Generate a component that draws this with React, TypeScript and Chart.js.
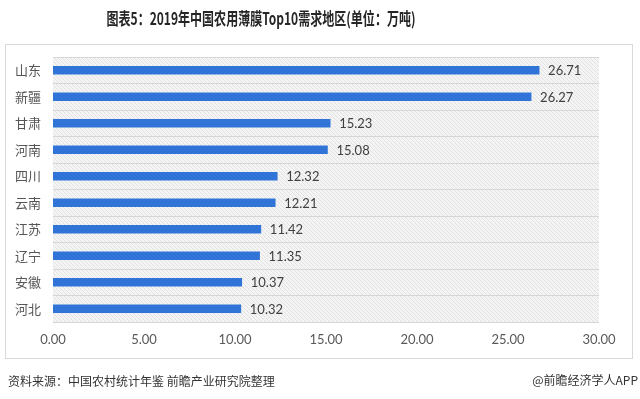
import React, { useEffect, useRef } from 'react';
import { Chart, registerables } from 'chart.js';

Chart.register(...registerables);

const categories = ['山东', '新疆', '甘肃', '河南', '四川', '云南', '江苏', '辽宁', '安徽', '河北'];
const values = [26.71, 26.27, 15.23, 15.08, 12.32, 12.21, 11.42, 11.35, 10.37, 10.32];
const xMin = 0;
const xMax = 30;
const xStep = 5;
const titleText = '图表5：2019年中国农用薄膜Top10需求地区(单位：万吨)';
const sourceText = '资料来源：中国农村统计年鉴 前瞻产业研究院整理';
const brandText = '@前瞻经济学人APP';

const FONT = 'Lato, "Noto Sans CJK SC", sans-serif';
const CJK = '"Noto Sans CJK SC", sans-serif';

function makePattern(ctx: CanvasRenderingContext2D) {
  const c = document.createElement('canvas');
  c.width = 4;
  c.height = 4;
  const p = c.getContext('2d')!;
  p.fillStyle = '#f4f4f4';
  p.fillRect(0, 0, 4, 4);
  p.strokeStyle = '#e2e2e2';
  p.lineWidth = 1;
  p.beginPath();
  p.moveTo(0, 0);
  p.lineTo(4, 4);
  p.moveTo(-2, 2);
  p.lineTo(2, 6);
  p.moveTo(2, -2);
  p.lineTo(6, 2);
  p.stroke();
  return ctx.createPattern(c, 'repeat');
}

const decor = {
  id: 'decor',
  beforeDraw(chart: any) {
    const { ctx, chartArea } = chart;
    ctx.save();
    ctx.fillStyle = '#ffffff';
    ctx.fillRect(0, 0, chart.width, chart.height);
    ctx.strokeStyle = '#d9d9d9';
    ctx.lineWidth = 1;
    ctx.strokeRect(5.5, 44.5, 627, 314);
    const pat = makePattern(ctx);
    if (pat) {
      ctx.fillStyle = pat;
      ctx.fillRect(chartArea.left, chartArea.top, chartArea.right - chartArea.left, chartArea.bottom - chartArea.top);
    }
    ctx.restore();
  },
  afterDatasetsDraw(chart: any) {
    const { ctx } = chart;
    const meta = chart.getDatasetMeta(0);
    ctx.save();
    ctx.font = '13px ' + FONT;
    ctx.fillStyle = '#404040';
    ctx.textAlign = 'left';
    ctx.textBaseline = 'middle';
    meta.data.forEach((bar: any, i: number) => {
      ctx.fillText(values[i].toFixed(2), bar.x + 9, bar.y + 1);
    });
    ctx.restore();
  },
  afterDraw(chart: any) {
    const { ctx } = chart;
    ctx.save();
    ctx.fillStyle = '#262626';
    ctx.font = 'bold 17px ' + CJK;
    ctx.textAlign = 'center';
    ctx.textBaseline = 'middle';
    ctx.fillText(titleText, 261, 19, 309);
    ctx.fillStyle = '#333333';
    ctx.font = '12px ' + CJK;
    ctx.textAlign = 'left';
    ctx.fillText(sourceText, 8, 381, 270);
    ctx.textAlign = 'right';
    ctx.fillText(brandText, 638, 380, 106);
    ctx.restore();
  },
};

export default function App() {
  const ref = useRef<HTMLCanvasElement>(null);
  useEffect(() => {
    if (!ref.current) return;
    const chart = new Chart(ref.current, {
      type: 'bar',
      data: {
        labels: categories,
        datasets: [
          {
            data: values,
            backgroundColor: '#3174d8',
            barThickness: 8,
          },
        ],
      },
      options: {
        indexAxis: 'y',
        animation: false,
        responsive: false,
        maintainAspectRatio: false,
        layout: { padding: { top: 57, left: 0, right: 41, bottom: 47 } },
        plugins: {
          legend: { display: false },
          tooltip: { enabled: false },
          title: { display: false },
        },
        scales: {
          x: {
            min: xMin,
            max: xMax,
            grid: { display: false, drawTicks: false },
            border: { display: false },
            ticks: {
              stepSize: xStep,
              padding: 10,
              color: '#595959',
              font: { size: 13, family: FONT },
              callback: (v: any) => Number(v).toFixed(2),
            },
            afterFit: (s: any) => {
              s.height = 30;
            },
          },
          y: {
            grid: { color: '#d6d6d6', drawTicks: false, offset: true },
            border: { display: false },
            ticks: {
              padding: 12,
              color: '#555555',
              font: { size: 13, family: CJK },
            },
            afterFit: (s: any) => {
              s.width = 53;
            },
          },
        },
      },
      plugins: [decor],
    });
    return () => chart.destroy();
  }, []);
  return (
    <div style={{ position: 'absolute', left: 0, top: 0, width: 640, height: 399 }}>
      <canvas ref={ref} width={640} height={399} style={{ width: 640, height: 399, display: 'block' }} />
    </div>
  );
}
